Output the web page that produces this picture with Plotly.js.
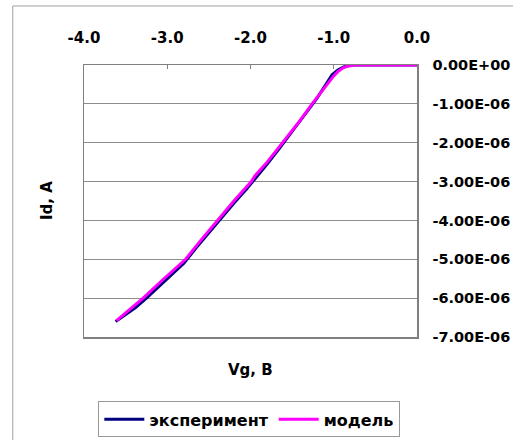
<!DOCTYPE html>
<html>
<head>
<meta charset="utf-8">
<script src="https://cdn.plot.ly/plotly-3.0.1.min.js"></script>
<style>html,body{margin:0;padding:0;background:#fff;}#chart{width:513px;height:440px;}</style>
</head>
<body>
<div id="chart"></div>
<script>
// Experiment: gate voltage (V) and drain current (A)
var expVg = [-3.62, -3.50, -3.38, -3.25, -3.10, -2.95, -2.80, -2.65, -2.50, -2.35, -2.20, -2.05, -1.95, -1.80, -1.65, -1.50, -1.35, -1.20, -1.08, -1.02, -0.95, -0.88, -0.80, -0.72, -0.60, -0.40, -0.20, 0.00];
var expId = [-6.60e-6, -6.42e-6, -6.24e-6, -6.00e-6, -5.70e-6, -5.40e-6, -5.10e-6, -4.70e-6, -4.31e-6, -3.93e-6, -3.56e-6, -3.20e-6, -2.95e-6, -2.55e-6, -2.14e-6, -1.72e-6, -1.28e-6, -0.85e-6, -0.45e-6, -0.25e-6, -0.13e-6, -0.05e-6, 0, 0, 0, 0, 0, 0];
// Model
var modVg = [-3.61, -3.45, -3.29, -3.05, -2.78, -2.60, -2.40, -2.20, -1.99, -1.95, -1.80, -1.61, -1.43, -1.26, -1.10, -1.00, -0.95, -0.90, -0.85, -0.80, -0.75, -0.70, -0.50, -0.25, 0.00];
var modId = [-6.58e-6, -6.30e-6, -6.00e-6, -5.52e-6, -5.00e-6, -4.52e-6, -4.00e-6, -3.50e-6, -3.00e-6, -2.86e-6, -2.50e-6, -2.00e-6, -1.50e-6, -1.00e-6, -0.55e-6, -0.28e-6, -0.17e-6, -0.09e-6, -0.04e-6, -0.01e-6, 0, 0, 0, 0, 0];
// Axis ticks
var xTicks = [-4, -3, -2, -1, 0];
var xTickText = ['-4.0', '-3.0', '-2.0', '-1.0', '0.0'];
var yTicks = [0, -1e-6, -2e-6, -3e-6, -4e-6, -5e-6, -6e-6, -7e-6];
var yTickText = ['0.00E+00', '-1.00E-06', '-2.00E-06', '-3.00E-06', '-4.00E-06', '-5.00E-06', '-6.00E-06', '-7.00E-06'];
var seriesNames = ['эксперимент', 'модель'];
var xTitle = 'Vg, B';
var yTitle = 'Id, A';

var FONT = 'DejaVu Sans, sans-serif';
var data = [
  {x: expVg, y: expId, type: 'scatter', mode: 'lines', name: seriesNames[0],
   line: {color: '#000080', width: 3}},
  {x: modVg, y: modId, type: 'scatter', mode: 'lines', name: seriesNames[1],
   line: {color: '#FF00FF', width: 3}}
];

var layout = {
  width: 513, height: 440,
  margin: {l: 84, r: 96, t: 65, b: 103, pad: 0, autoexpand: false},
  paper_bgcolor: '#ffffff', plot_bgcolor: '#ffffff',
  font: {family: FONT, size: 15, color: '#000000', weight: 'bold'},
  showlegend: true,
  legend: {orientation: 'h', xref: 'container', yref: 'container', x: 0.486, xanchor: 'center',
           y: 0.006, yanchor: 'bottom',
           bordercolor: '#999999', borderwidth: 1, bgcolor: '#ffffff',
           font: {family: FONT, size: 16, weight: 'bold'}, itemwidth: 40},
  xaxis: {side: 'top', range: [-4, 0], tickvals: xTicks, ticktext: xTickText,
          ticks: 'inside', ticklen: 4, tickcolor: '#808080', ticklabelstandoff: 15,
          showgrid: false, zeroline: false, showline: true, mirror: true,
          linecolor: '#808080', linewidth: 1.5, fixedrange: true, automargin: false,
          tickfont: {family: FONT, size: 15, weight: 'bold'}},
  yaxis: {side: 'right', range: [-7e-6, 0], tickvals: yTicks, ticktext: yTickText,
          ticks: '', ticklabelstandoff: 11, showgrid: true, gridcolor: '#8c8c8c', gridwidth: 1,
          zeroline: false, showline: true, mirror: true, linecolor: '#808080', linewidth: 1.5,
          fixedrange: true, automargin: false, tickfont: {family: FONT, size: 14.5, weight: 'bold'}},
  annotations: [
    {text: xTitle, xref: 'paper', yref: 'paper', x: 0.5, y: -0.121, xanchor: 'center', yanchor: 'middle',
     showarrow: false, font: {family: FONT, size: 15, weight: 'bold'}},
    {text: yTitle, xref: 'paper', yref: 'paper', x: -0.111, y: 0.5, xanchor: 'center', yanchor: 'middle',
     textangle: -90, showarrow: false, font: {family: FONT, size: 15, weight: 'bold'}}
  ],
  shapes: [
    {type: 'rect', xref: 'paper', yref: 'paper', x0: -0.214, x1: 1.6, y0: -0.6, y1: 1.217,
     line: {color: '#a0a0a0', width: 1}, fillcolor: 'rgba(0,0,0,0)', layer: 'below'}
  ]
};

Plotly.newPlot('chart', data, layout, {staticPlot: true, displayModeBar: false});
</script>
</body>
</html>
